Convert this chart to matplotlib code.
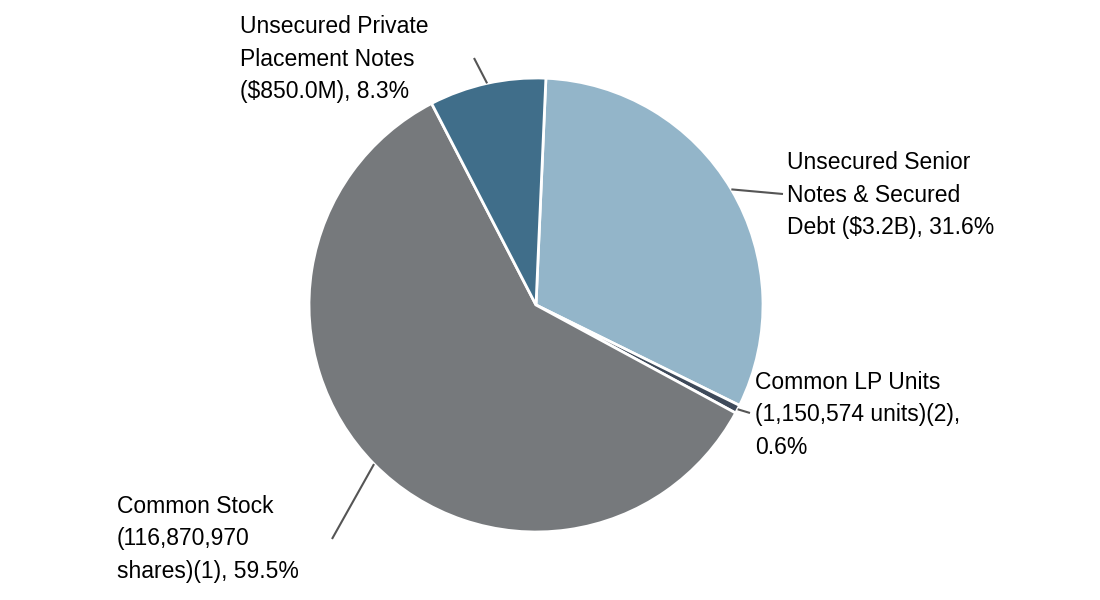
import numpy as np
import matplotlib.pyplot as plt

plt.rcParams['font.family'] = ['Liberation Sans', 'DejaVu Sans']

labels = ["Unsecured Senior\nNotes & Secured\nDebt ($3.2B), 31.6%",
          "Common LP Units\n(1,150,574 units)(2),\n0.6%",
          "Common Stock\n(116,870,970\nshares)(1), 59.5%",
          "Unsecured Private\nPlacement Notes\n($850.0M), 8.3%"]
shares = [31.6, 0.6, 59.5, 8.3]
colors = ["#93b5c9", "#3e4a5a", "#76797c", "#406e8a"]

# label anchor (left x, middle-line center y) and leader end, in pixel coords (y down)
label_pos = [(787, 195), (755, 415), (117, 539), (240, 59)]
leader_end = [(783, 194), (750, 413), (332, 539), (474, 58)]

W, H = 1100, 600
fig = plt.figure(figsize=(11, 6), dpi=100)
ax = fig.add_axes([0, 0, 1, 1])

cx, cy, r = 536, H - 305, 227
start = 87.5
wedges, _ = ax.pie(shares, colors=colors, startangle=start, counterclock=False,
                   center=(cx, cy), radius=r, frame=True,
                   wedgeprops=dict(edgecolor='white', linewidth=2))
ax.set_xlim(0, W)
ax.set_ylim(0, H)
ax.set_aspect('equal')
ax.axis('off')

total = sum(shares)
cum = 0
for i, s in enumerate(shares):
    mid = np.deg2rad(start - 360 * (cum + s / 2) / total)
    cum += s
    x0 = cx + r * np.cos(mid)
    y0 = cy + r * np.sin(mid)
    ex, ey = leader_end[i]
    ax.plot([x0, ex], [y0, H - ey], color='#555555', lw=1.5, solid_capstyle='butt')
    lx, ly = label_pos[i]
    ax.text(lx, H - ly, labels[i], fontsize=16.5, ha='left', va='center',
            linespacing=1.53, color='black')

fig.savefig("out.png", dpi=100)
